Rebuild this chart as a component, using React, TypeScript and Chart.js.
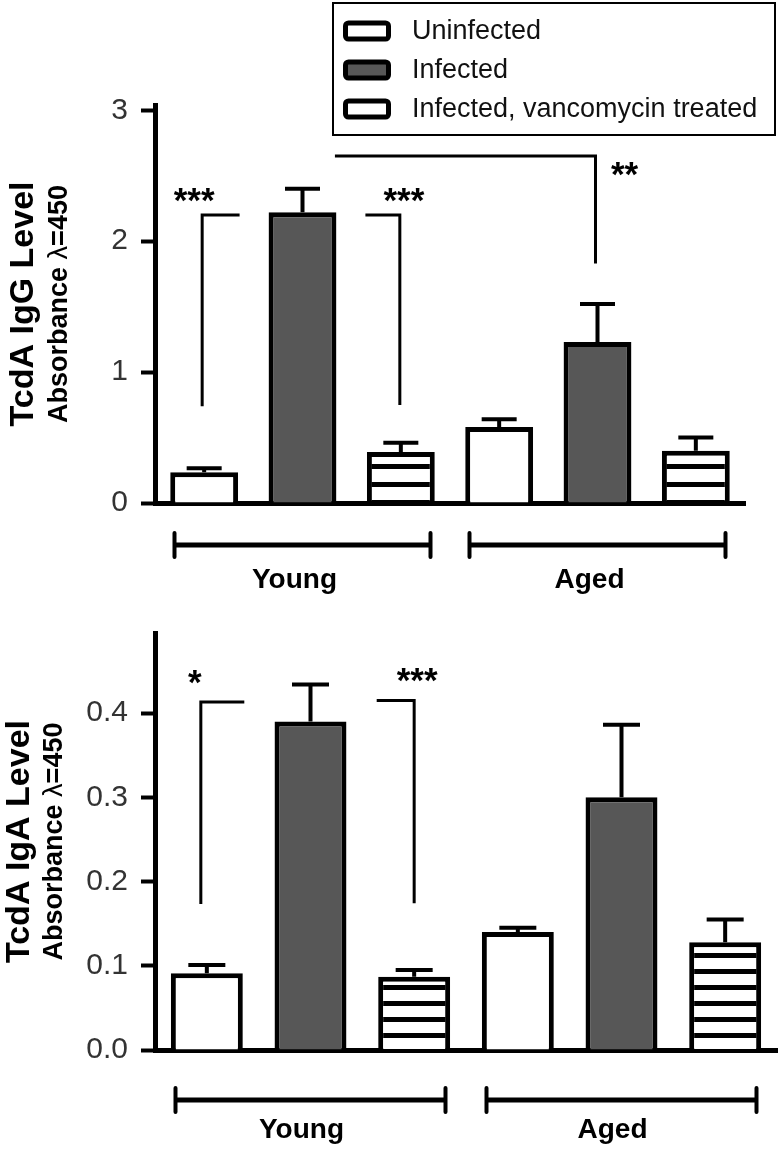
import React, { useEffect, useRef } from "react";
import { Chart, registerables } from "chart.js";

Chart.register(...registerables);

// ---------- data ----------
const groups = ["Young", "Aged"];
const seriesNames = ["Uninfected", "Infected", "Infected, vancomycin treated"];

// TcdA IgG (top panel)
const iggUninfected = [0.235, 0.58];
const iggInfected = [2.22, 1.23];
const iggVanco = [0.39, 0.4];
const iggUninfectedErr = [0.03, 0.06];
const iggInfectedErr = [0.18, 0.29];
const iggVancoErr = [0.07, 0.1];
const iggTicks = [0, 1, 2, 3];

// TcdA IgA (bottom panel)
const igaUninfected = [0.091, 0.14];
const igaInfected = [0.39, 0.3];
const igaVanco = [0.087, 0.128];
const igaUninfectedErr = [0.01, 0.005];
const igaInfectedErr = [0.044, 0.086];
const igaVancoErr = [0.008, 0.027];
const igaTicks = [0, 0.1, 0.2, 0.3, 0.4];

// significance brackets
type Anchor = "left" | "center" | "right";
interface Sig {
  label: string;
  v: [number, number, number];
  h: [number, number, Anchor];
  top: number;
  bottom: number;
  t: [number, number, number, number];
}
const iggSig: Sig[] = [
  { label: "***", v: [0, 0, -2], h: [0, 0, "right"], top: 2.2, bottom: 0.75, t: [0, 0, -10, 2.37] },
  { label: "***", v: [2, 0, -1], h: [2, 0, "left"], top: 2.2, bottom: 0.76, t: [2, 0, 3, 2.37] },
  { label: "**", v: [1, 1, -2], h: [1, 0, "right"], top: 2.65, bottom: 1.84, t: [1, 1, 27, 2.57] },
];
const igaSig: Sig[] = [
  { label: "*", v: [0, 0, -6], h: [0, 0, "right"], top: 0.413, bottom: 0.175, t: [0, 0, -12, 0.445] },
  { label: "***", v: [2, 0, 0], h: [2, 0, "left"], top: 0.415, bottom: 0.176, t: [2, 0, 3, 0.448] },
];

// ---------- styling / layout ----------
const FONT = '"Liberation Sans", Arial, Helvetica, sans-serif';
const W = 780;

interface Panel {
  height: number;
  values: number[][];
  errors: number[][];
  max: number;
  ticks: number[];
  decimals: number;
  title: string;
  area: { left: number; right: number; top: number; bottom: number };
  barPct: number;
  capW: number;
  stripe: { h: number; t: number; off: number };
  sig: Sig[];
  titleX: number;
  subX: number;
  labelPad: number;
  labelOffset: number;
  bracketY: number;
  bracketHalf: number;
  legend: boolean;
}

const topPanel: Panel = {
  height: 600,
  values: [iggUninfected, iggInfected, iggVanco],
  errors: [iggUninfectedErr, iggInfectedErr, iggVancoErr],
  max: 3.04,
  ticks: iggTicks,
  decimals: 0,
  title: "TcdA IgG Level",
  area: { left: 155, right: 745, top: 105, bottom: 503 },
  barPct: 0.69,
  capW: 35,
  stripe: { h: 18, t: 5, off: 482 },
  sig: iggSig,
  titleX: 33,
  subX: 67,
  labelPad: 60,
  labelOffset: -8,
  bracketY: 545,
  bracketHalf: 128,
  legend: true,
};

const bottomPanel: Panel = {
  height: 549,
  values: [igaUninfected, igaInfected, igaVanco],
  errors: [igaUninfectedErr, igaInfectedErr, igaVancoErr],
  max: 0.495,
  ticks: igaTicks,
  decimals: 1,
  title: "TcdA IgA Level",
  area: { left: 155, right: 777, top: 33, bottom: 450 },
  barPct: 0.694,
  capW: 37,
  stripe: { h: 16, t: 5, off: 353 },
  sig: igaSig,
  titleX: 29,
  subX: 62,
  labelPad: 63,
  labelOffset: -9,
  bracketY: 500,
  bracketHalf: 135,
  legend: false,
};

function makeStripe(ctx: CanvasRenderingContext2D, s: { h: number; t: number; off: number }) {
  const c = document.createElement("canvas");
  c.width = 8;
  c.height = s.h;
  const x = c.getContext("2d")!;
  x.fillStyle = "#fff";
  x.fillRect(0, 0, 8, s.h);
  x.fillStyle = "#000";
  x.fillRect(0, 0, 8, s.t);
  const p = ctx.createPattern(c, "repeat")!;
  p.setTransform(new DOMMatrix([1, 0, 0, 1, 0, s.off]));
  return p;
}

function barX(chart: any, ds: number, g: number, anchor: Anchor) {
  const el = chart.getDatasetMeta(ds).data[g];
  const { x, width } = el.getProps(["x", "width"], true);
  if (anchor === "left") return x - width / 2;
  if (anchor === "right") return x + width / 2;
  return x;
}

function overlay(panel: Panel) {
  return {
    id: "overlay",
    afterDraw(chart: any) {
      const ctx: CanvasRenderingContext2D = chart.ctx;
      const ys = chart.scales.y;
      const xs = chart.scales.x;
      const area = chart.chartArea;
      ctx.save();
      ctx.strokeStyle = "#000";
      ctx.fillStyle = "#000";

      // error bars
      ctx.lineWidth = 4;
      ctx.lineCap = "butt";
      panel.values.forEach((vals, ds) => {
        const meta = chart.getDatasetMeta(ds);
        vals.forEach((v, g) => {
          const el = meta.data[g];
          const { x, y } = el.getProps(["x", "y"], true);
          const yt = ys.getPixelForValue(v + panel.errors[ds][g]);
          ctx.beginPath();
          ctx.moveTo(x, y);
          ctx.lineTo(x, yt);
          ctx.moveTo(x - panel.capW / 2, yt);
          ctx.lineTo(x + panel.capW / 2, yt);
          ctx.stroke();
        });
      });

      // significance brackets
      ctx.lineWidth = 3;
      ctx.lineCap = "square";
      ctx.lineJoin = "miter";
      panel.sig.forEach((s) => {
        const vx = barX(chart, s.v[0], s.v[1], "center") + s.v[2];
        const hx = barX(chart, s.h[0], s.h[1], s.h[2]);
        const yTop = ys.getPixelForValue(s.top);
        const yBot = ys.getPixelForValue(s.bottom);
        ctx.beginPath();
        ctx.moveTo(hx, yTop);
        ctx.lineTo(vx, yTop);
        ctx.lineTo(vx, yBot);
        ctx.stroke();
        const tx = barX(chart, s.t[0], s.t[1], "center") + s.t[2];
        const ty = ys.getPixelForValue(s.t[3]);
        ctx.font = `bold 35px ${FONT}`;
        ctx.textAlign = "center";
        ctx.textBaseline = "alphabetic";
        ctx.fillText(s.label, tx, ty + 19);
      });

      // group brackets under the axis
      groups.forEach((_, g) => {
        const cx = xs.getPixelForValue(g);
        const x1 = cx - panel.bracketHalf;
        const x2 = cx + panel.bracketHalf;
        const y = panel.bracketY;
        ctx.lineCap = "butt";
        ctx.lineWidth = 5;
        ctx.beginPath();
        ctx.moveTo(x1, y);
        ctx.lineTo(x2, y);
        ctx.stroke();
        ctx.lineWidth = 4;
        ctx.lineCap = "round";
        ctx.beginPath();
        ctx.moveTo(x1, y - 12);
        ctx.lineTo(x1, y + 12);
        ctx.moveTo(x2, y - 12);
        ctx.lineTo(x2, y + 12);
        ctx.stroke();
      });

      // y titles
      const cy = (area.top + area.bottom) / 2;
      ctx.save();
      ctx.translate(panel.titleX, cy);
      ctx.rotate(-Math.PI / 2);
      ctx.textAlign = "center";
      ctx.textBaseline = "alphabetic";
      ctx.font = `bold 34px ${FONT}`;
      ctx.fillText(panel.title, 0, 0);
      ctx.restore();

      ctx.save();
      ctx.translate(panel.subX, cy);
      ctx.rotate(-Math.PI / 2);
      ctx.textAlign = "left";
      ctx.textBaseline = "alphabetic";
      const parts: [string, string][] = [
        ["Absorbance ", `bold 27px ${FONT}`],
        ["\u03bb", `27px ${FONT}`],
        ["=450", `bold 27px ${FONT}`],
      ];
      let total = 0;
      parts.forEach(([t, f]) => {
        ctx.font = f;
        total += ctx.measureText(t).width;
      });
      let px = -total / 2;
      parts.forEach(([t, f]) => {
        ctx.font = f;
        ctx.fillText(t, px, 0);
        px += ctx.measureText(t).width;
      });
      ctx.restore();

      // legend
      if (panel.legend) {
        ctx.lineWidth = 2;
        ctx.strokeStyle = "#000";
        ctx.strokeRect(333, 3, 442, 132);
        const rows = [31, 70, 109];
        seriesNames.forEach((name, i) => {
          const y = rows[i];
          ctx.beginPath();
          (ctx as any).roundRect(345.5, y - 8, 43, 16, 3);
          ctx.fillStyle = i === 1 ? "#575757" : "#fff";
          ctx.fill();
          ctx.lineWidth = 5;
          ctx.strokeStyle = "#000";
          ctx.stroke();
          ctx.fillStyle = "#111";
          ctx.font = `27px ${FONT}`;
          ctx.textAlign = "left";
          ctx.textBaseline = "middle";
          ctx.fillText(name, 412, y + 1);
        });
      }
      ctx.restore();
    },
  };
}

function buildChart(canvas: HTMLCanvasElement, panel: Panel) {
  const ctx = canvas.getContext("2d")!;
  const stripe = makeStripe(ctx, panel.stripe);
  const fills: any[] = ["#ffffff", "#575757", stripe];
  const a = panel.area;
  return new Chart(canvas, {
    type: "bar",
    data: {
      labels: groups,
      datasets: seriesNames.map((name, i) => ({
        label: name,
        data: panel.values[i],
        backgroundColor: fills[i],
        borderColor: "#000",
        borderWidth: 5,
        borderSkipped: "start",
        categoryPercentage: 1,
        barPercentage: panel.barPct,
      })),
    },
    options: {
      animation: false,
      responsive: false,
      maintainAspectRatio: false,
      layout: { padding: { top: a.top, right: W - a.right, left: 0, bottom: 0 } },
      plugins: {
        legend: { display: false },
        tooltip: { enabled: false },
        title: { display: false },
      },
      scales: {
        x: {
          type: "category",
          offset: true,
          grid: { display: false, drawTicks: false },
          border: { display: true, color: "#000", width: 5 },
          ticks: {
            color: "#000",
            font: { family: FONT, size: 28, weight: "bold" },
            padding: panel.labelPad,
            labelOffset: panel.labelOffset,
            maxRotation: 0,
          },
          afterFit: (s: any) => {
            s.height = panel.height - a.bottom;
          },
        },
        y: {
          min: 0,
          max: panel.max,
          grid: {
            display: true,
            drawOnChartArea: false,
            drawTicks: true,
            tickLength: 14,
            tickWidth: 4,
            tickColor: "#000",
          },
          border: { display: true, color: "#000", width: 5 },
          ticks: {
            color: "#333",
            font: { family: FONT, size: 30 },
            padding: 13,
            callback: (v: any) => Number(v).toFixed(panel.decimals),
          },
          afterBuildTicks: (s: any) => {
            s.ticks = panel.ticks.map((v) => ({ value: v }));
          },
          afterFit: (s: any) => {
            s.width = a.left;
          },
        },
      },
    } as any,
    plugins: [overlay(panel)],
  });
}

export default function App() {
  const topRef = useRef<HTMLCanvasElement>(null);
  const botRef = useRef<HTMLCanvasElement>(null);
  useEffect(() => {
    const c1 = buildChart(topRef.current!, topPanel);
    const c2 = buildChart(botRef.current!, bottomPanel);
    return () => {
      c1.destroy();
      c2.destroy();
    };
  }, []);
  return (
    <div style={{ position: "absolute", left: 0, top: 0, width: 780, height: 1149, background: "#fff" }}>
      <canvas
        ref={topRef}
        width={780}
        height={600}
        style={{ position: "absolute", left: 0, top: 0, width: 780, height: 600 }}
      />
      <canvas
        ref={botRef}
        width={780}
        height={549}
        style={{ position: "absolute", left: 0, top: 600, width: 780, height: 549 }}
      />
    </div>
  );
}
